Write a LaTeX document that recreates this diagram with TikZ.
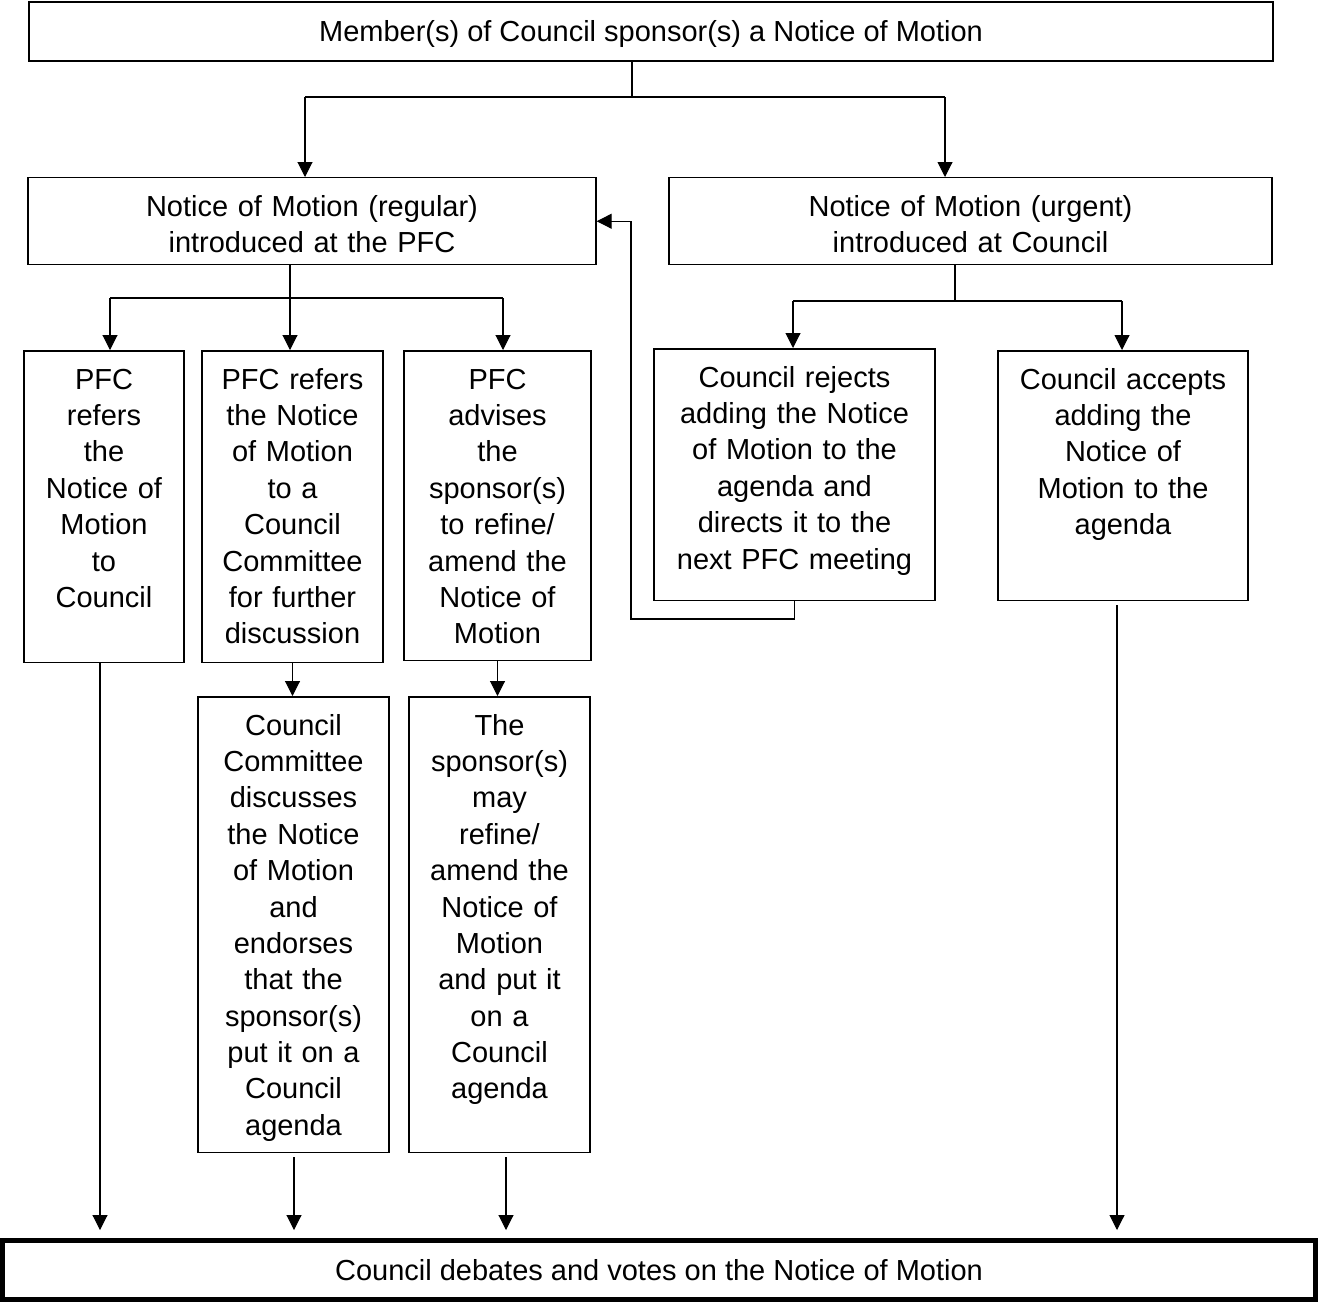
\documentclass[tikz,border=0pt]{standalone}
\usepackage{fontspec}
\setmainfont{Liberation Sans}
\usepackage{tikz}
\usetikzlibrary{arrows.meta}
\usetikzlibrary{calc}

\tikzset{
  box/.style={draw, line width=0.85pt, align=center, inner xsep=2pt, inner ysep=0pt,
              text height=0.77cm, anchor=north},
  topbox/.style={draw, line width=1.1pt, inner sep=0pt, text height=0.5cm, text depth=0.084cm,
                 minimum width=24.88cm, minimum height=1.18cm},
  endbox/.style={draw, line width=2.8pt, inner sep=0pt, text height=0.5cm, text depth=0.084cm,
                 minimum width=26.27cm, minimum height=1.17cm},
  arr/.style={-{Triangle[length=0.3cm,width=0.3cm]}, line width=0.6pt},
}

\begin{document}
\begin{tikzpicture}[x=0.02cm, y=-0.02cm, font=\fontsize{16.5}{20.7}\selectfont]
\useasboundingbox (0,0) rectangle (1322,1302);

\node[topbox] (top) at (651,31.5) {Member(s) of Council sponsor(s) a Notice of Motion};

\node[box, minimum width=11.36cm, text width=11cm, text depth=0.97cm] (reg) at (312,177)
  {Notice of Motion (regular)\\introduced at the PFC};
\node[box, minimum width=12.06cm, text width=11.7cm, text depth=0.97cm] (urg) at (970.5,177)
  {Notice of Motion (urgent)\\introduced at Council};

\node[box, minimum width=3.2cm, text width=3cm, text depth=5.47cm] (ref1) at (104,350)
  {PFC\\refers\\the\\Notice of\\Motion\\to\\Council};
\node[box, minimum width=3.62cm, text width=3.4cm, text depth=5.47cm] (ref2) at (292.5,350)
  {PFC refers\\the Notice\\of Motion\\to a\\Council\\Committee\\for further\\discussion};
\node[box, minimum width=3.74cm, text width=3.5cm, text depth=5.43cm] (adv) at (497.5,350)
  {PFC\\advises\\the\\sponsor(s)\\to refine/\\amend the\\Notice of\\Motion};
\node[box, minimum width=5.62cm, text width=5.4cm, text depth=4.27cm] (rej) at (794.5,348)
  {Council rejects\\adding the Notice\\of Motion to the\\agenda and\\directs it to the\\next PFC meeting};
\node[box, minimum width=5cm, text width=4.8cm, text depth=4.23cm] (acc) at (1123,350)
  {Council accepts\\adding the\\Notice of\\Motion to the\\agenda};

\node[box, minimum width=3.82cm, text width=3.6cm, text depth=8.35cm] (disc) at (293.5,696)
  {Council\\Committee\\discusses\\the Notice\\of Motion\\and\\endorses\\that the\\sponsor(s)\\put it on a\\Council\\agenda};
\node[box, minimum width=3.62cm, text width=3.4cm, text depth=8.35cm] (amend) at (499.5,696)
  {The\\sponsor(s)\\may\\refine/\\amend the\\Notice of\\Motion\\and put it\\on a\\Council\\agenda};

\node[endbox] (debate) at (659,1270) {Council debates and votes on the Notice of Motion};

\coordinate (s0) at (632,97);
\coordinate (s0l) at (305,97);
\coordinate (s0r) at (945,97);
\draw[line width=0.6pt] (top.south -| s0) -- (s0);
\draw[line width=0.6pt] (s0l) -- (s0r);
\draw[arr] (s0l) -- (reg.north -| s0l);
\draw[arr] (s0r) -- (urg.north -| s0r);

\coordinate (s1) at (290,298);
\coordinate (s1l) at (110,298);
\coordinate (s1r) at (503,298);
\draw[line width=0.6pt] (reg.south -| s1) -- (s1);
\draw[line width=0.6pt] (s1l) -- (s1r);
\draw[arr] (s1l) -- (ref1.north -| s1l);
\draw[arr] (s1) -- (ref2.north -| s1);
\draw[arr] (s1r) -- (adv.north -| s1r);

\coordinate (s2) at (955,301);
\coordinate (s2l) at (793,301);
\coordinate (s2r) at (1122,301);
\draw[line width=0.6pt] (urg.south -| s2) -- (s2);
\draw[line width=0.6pt] (s2l) -- (s2r);
\draw[arr] (s2l) -- (rej.north -| s2l);
\draw[arr] (s2r) -- (acc.north -| s2r);

\coordinate (fb) at (631,619);
\draw[arr] (rej.south) |- (fb) |- (reg.east);

\draw[arr] (ref2.south) -- (ref2.south |- disc.north);
\draw[arr] (adv.south) -- (adv.south |- amend.north);

\coordinate (d1) at (100,1230);
\coordinate (d6) at (294,1230);
\coordinate (d7) at (506,1230);
\coordinate (d5) at (1117,1230);
\draw[arr] (ref1.south -| d1) -- (d1);
\draw[arr, shorten <=0.08cm] (disc.south -| d6) -- (d6);
\draw[arr, shorten <=0.08cm] (amend.south -| d7) -- (d7);
\draw[arr, shorten <=0.08cm] (acc.south -| d5) -- (d5);
%\draw[arr] (ref1.south) -- (debate.north);
\end{tikzpicture}
\end{document}
